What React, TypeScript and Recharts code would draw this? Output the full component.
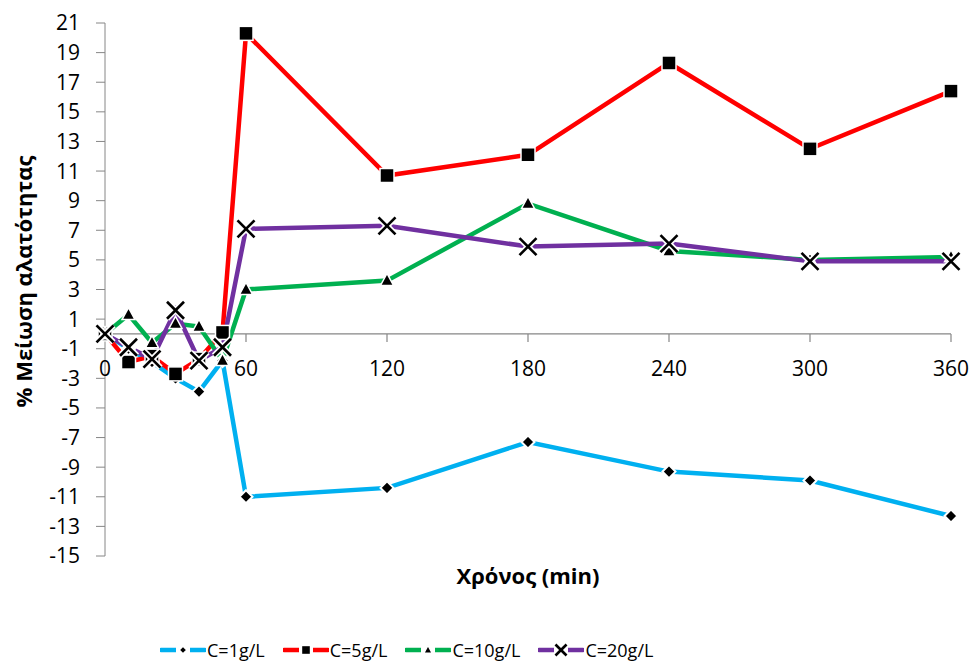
import React from 'react';
import { LineChart, Line, XAxis, YAxis, ReferenceLine, ReferenceDot, Legend } from 'recharts';

const times = [0, 10, 20, 30, 40, 50, 60, 120, 180, 240, 300, 360];
const c1 = [0, -1.0, -1.9, -3.0, -3.9, -1.8, -11.0, -10.4, -7.3, -9.3, -9.9, -12.3];
const c5 = [0, -1.9, -1.5, -2.7, -1.7, 0.1, 20.3, 10.7, 12.1, 18.3, 12.5, 16.4];
const c10 = [0, 1.3, -0.6, 0.7, 0.5, -1.8, 3.0, 3.6, 8.8, 5.6, 5.0, 5.2];
const c20 = [0, -0.9, -1.7, 1.6, -1.8, -0.9, 7.1, 7.3, 5.9, 6.1, 4.9, 4.9];

const xTicks = [0, 60, 120, 180, 240, 300, 360];
const yTicks = [-15, -13, -11, -9, -7, -5, -3, -1, 1, 3, 5, 7, 9, 11, 13, 15, 17, 19, 21];

const seriesNames = ['C=1g/L', 'C=5g/L', 'C=10g/L', 'C=20g/L'];
const seriesKeys = ['c1', 'c5', 'c10', 'c20'];
const seriesColors = ['#00B0F0', '#FF0000', '#00B050', '#7030A0'];
const seriesMarkers = ['diamond', 'square', 'triangle', 'x'];

const data = times.map((t, i) => ({ t, c1: c1[i], c5: c5[i], c10: c10[i], c20: c20[i] }));

const FONT = '"Open Sans", sans-serif';
const AXIS = '#868686';

function Marker({ kind, cx, cy, scale = 1 }: { kind: string; cx: number; cy: number; scale?: number }) {
  const s = scale;
  if (kind === 'diamond') {
    const r = 6.5 * s;
    return (
      <polygon
        points={`${cx},${cy - r} ${cx + r},${cy} ${cx},${cy + r} ${cx - r},${cy}`}
        fill="#000"
        stroke="#fff"
        strokeWidth={2}
      />
    );
  }
  if (kind === 'square') {
    const h = 7 * s;
    return <rect x={cx - h} y={cy - h} width={2 * h} height={2 * h} fill="#000" stroke="#fff" strokeWidth={1.5} />;
  }
  if (kind === 'triangle') {
    const h = 6.5 * s;
    return (
      <polygon
        points={`${cx},${cy - h * 1.1} ${cx + h},${cy + h * 0.75} ${cx - h},${cy + h * 0.75}`}
        fill="#000"
        stroke="#fff"
        strokeWidth={1.5}
      />
    );
  }
  const r = 8.5 * s;
  return (
    <g>
      <line x1={cx - r} y1={cy - r} x2={cx + r} y2={cy + r} stroke="#fff" strokeWidth={6} />
      <line x1={cx - r} y1={cy + r} x2={cx + r} y2={cy - r} stroke="#fff" strokeWidth={6} />
      <line x1={cx - r} y1={cy - r} x2={cx + r} y2={cy + r} stroke="#000" strokeWidth={2.6} />
      <line x1={cx - r} y1={cy + r} x2={cx + r} y2={cy - r} stroke="#000" strokeWidth={2.6} />
    </g>
  );
}

const makeDot = (kind: string) => (props: any) => {
  const { cx, cy, index } = props;
  if (cx == null || cy == null) return <g key={`d-${kind}-${index}`} />;
  return (
    <g key={`d-${kind}-${index}`}>
      <Marker kind={kind} cx={cx} cy={cy} />
    </g>
  );
};

const renderLegend = () => (
  <div
    style={{
      height: 32,
      display: 'flex',
      alignItems: 'center',
      paddingLeft: 160,
      fontFamily: FONT,
      fontSize: 18,
      color: '#000',
      lineHeight: '32px',
    }}
  >
    {seriesNames.map((name, i) => (
      <div key={name} style={{ display: 'flex', alignItems: 'center', marginRight: 18 }}>
        <svg width={46} height={16} style={{ display: 'block' }}>
          <line x1={1} y1={8} x2={45} y2={8} stroke={seriesColors[i]} strokeWidth={4.5} strokeLinecap="round" />
          <rect x={16} y={0} width={14} height={16} fill="#fff" />
          <Marker kind={seriesMarkers[i]} cx={23} cy={8} scale={0.65} />
        </svg>
        <span style={{ marginLeft: 1 }}>{name}</span>
      </div>
    ))}
  </div>
);

const xTickShape = (label: number) => (props: any) => {
  const { cx, cy } = props;
  return (
    <g>
      <line x1={cx} y1={cy} x2={cx} y2={cy + 8} stroke={AXIS} strokeWidth={1.2} />
      <text x={cx} y={cy + 34} textAnchor="middle" dominantBaseline="central" fontFamily={FONT} fontSize={21} fill="#000">
        {label}
      </text>
    </g>
  );
};

const XTitle = (props: any) => {
  const vb = props.viewBox;
  return (
    <text
      x={vb.x + vb.width / 2}
      y={vb.y + 19}
      textAnchor="middle"
      dominantBaseline="central"
      fontFamily={FONT}
      fontWeight="bold"
      fontSize={22}
      fill="#000"
    >
      Χρόνος (min)
    </text>
  );
};

const YTitle = (props: any) => {
  const vb = props.viewBox;
  const cx = 22.5;
  const cy = vb.y + vb.height / 2 - 8;
  return (
    <text
      x={cx}
      y={cy}
      transform={`rotate(-90 ${cx} ${cy})`}
      textAnchor="middle"
      dominantBaseline="central"
      fontFamily={FONT}
      fontWeight="bold"
      fontSize={22}
      fill="#000"
    >
      % Μείωση αλατότητας
    </text>
  );
};

export default function App() {
  return (
    <div style={{ width: 975, height: 666 }}>
      <style>{`html, body { margin: 0; padding: 0; }`}</style>
      <LineChart width={975} height={666} data={data} margin={{ top: 23, right: 24, bottom: 0, left: 0 }}>
        <XAxis
          type="number"
          dataKey="t"
          domain={[0, 360]}
          ticks={xTicks}
          axisLine={false}
          tickLine={false}
          tick={false}
          height={78}
          label={<XTitle />}
        />
        <YAxis
          type="number"
          domain={[-15, 21]}
          ticks={yTicks}
          interval={0}
          width={105}
          stroke={AXIS}
          tickSize={9}
          tickMargin={16}
          tick={{ fill: '#000', fontSize: 21, fontFamily: FONT }}
          label={<YTitle />}
        />
        <ReferenceLine y={0} stroke={AXIS} strokeWidth={1.2} />
        {xTicks.map((t) => (
          <ReferenceDot key={`xt-${t}`} x={t} y={0} shape={xTickShape(t)} />
        ))}
        <Legend verticalAlign="bottom" align="left" content={renderLegend} wrapperStyle={{ left: 0, width: 975 }} />
        {seriesKeys.map((k, i) => (
          <Line
            key={k}
            type="linear"
            dataKey={k}
            name={seriesNames[i]}
            stroke={seriesColors[i]}
            strokeWidth={4.5}
            dot={makeDot(seriesMarkers[i])}
            activeDot={false}
            isAnimationActive={false}
          />
        ))}
      </LineChart>
    </div>
  );
}
